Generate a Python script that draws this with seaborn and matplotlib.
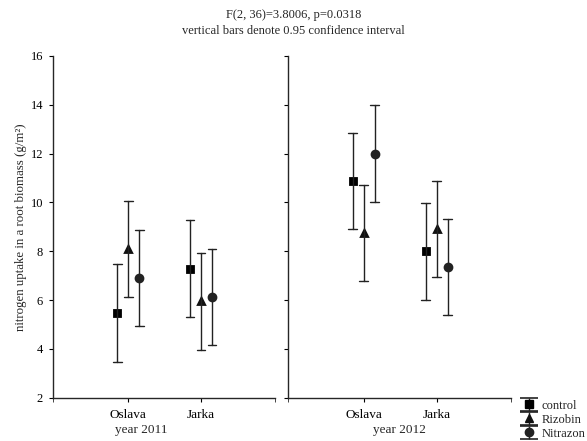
import numpy as np
import pandas as pd
import matplotlib.pyplot as plt
import seaborn as sns

# values
sites = ['Oslava', 'Jarka']
treatments = ['control', 'Rizobin', 'Nitrazon']
years = ['2011', '2012']

mean_2011 = {'control': [5.45, 7.27], 'Rizobin': [8.08, 5.95], 'Nitrazon': [6.92, 6.14]}
lower_2011 = {'control': [3.48, 5.30], 'Rizobin': [6.12, 3.97], 'Nitrazon': [4.94, 4.17]}
upper_2011 = {'control': [7.46, 9.26], 'Rizobin': [10.07, 7.93], 'Nitrazon': [8.88, 8.09]}

mean_2012 = {'control': [10.86, 8.00], 'Rizobin': [8.75, 8.90], 'Nitrazon': [12.00, 7.36]}
lower_2012 = {'control': [8.89, 6.02], 'Rizobin': [6.78, 6.93], 'Nitrazon': [10.02, 5.40]}
upper_2012 = {'control': [12.83, 9.98], 'Rizobin': [10.73, 10.86], 'Nitrazon': [13.97, 9.32]}

title_lines = ['F(2, 36)=3.8006, p=0.0318', 'vertical bars denote 0.95 confidence interval']
ylabel = 'nitrogen uptake in a root biomass (g/m\u00b2)'

# long table: lower / mean / upper rows, median = mean, 100% interval = CI bar
rows = []
for year, (m, lo, hi) in zip(years, [(mean_2011, lower_2011, upper_2011),
                                     (mean_2012, lower_2012, upper_2012)]):
    for t in treatments:
        for i, s in enumerate(sites):
            for v in (lo[t][i], m[t][i], hi[t][i]):
                rows.append({'year': year, 'site': s, 'treatment': t, 'value': v})
df = pd.DataFrame(rows)

sns.set_style('ticks')
plt.rcParams['font.family'] = ['Liberation Serif', 'DejaVu Serif']
plt.rcParams['xtick.major.size'] = 3
plt.rcParams['ytick.major.size'] = 3
plt.rcParams['xtick.minor.size'] = 3
plt.rcParams['axes.linewidth'] = 1.0

fig = plt.figure(figsize=(5.87, 4.41), dpi=100)
ax1 = fig.add_axes([0.0898, 0.0982, 0.379, 0.775])
ax2 = fig.add_axes([0.4906, 0.0982, 0.380, 0.775])

markers = ['s', '^', 'o']
colors = ['black', '#111111', '#222222']
for ax, year, xlab_pos in [(ax1, '2011', 0.397), (ax2, '2012', 0.498)]:
    sns.pointplot(data=df[df['year'] == year], x='site', y='value', hue='treatment',
                  order=sites, hue_order=treatments, estimator='median',
                  errorbar=('pi', 100), dodge=0.3, markers=markers, linestyles='none',
                  palette=colors, capsize=0.12,
                  err_kws={'linewidth': 1.0, 'color': '#222222'}, markersize=5,
                  legend=False, ax=ax)
    ax.set_xlim(-1.04, 2.02)
    ax.set_xticks([-1.04, 2.02], minor=True)
    ax.set_ylim(2, 16)
    ax.set_yticks(range(2, 17, 2))
    ax.tick_params(axis='both', colors='black', labelsize=9.5, pad=5)
    ax.set_xlabel('year ' + year, fontsize=9.5)
    ax.xaxis.set_label_coords(xlab_pos, -0.078)
    ax.set_ylabel('')
    sns.despine(ax=ax)

ax1.tick_params(axis='y', labelsize=9, pad=4)
ax1.set_ylabel(ylabel, fontsize=9.3)
ax1.yaxis.set_label_coords(-0.114, 0.5)
ax2.tick_params(axis='y', labelleft=False)

fig.text(0.5, 0.967, title_lines[0], ha='center', va='center', fontsize=9)
fig.text(0.5, 0.930, title_lines[1], ha='center', va='center', fontsize=9)

# legend handles styled like the error bars (marker with capped bar)
handles = []
for mk, c in zip(markers, colors):
    eb = ax2.errorbar([np.nan], [np.nan], yerr=[1], fmt=mk, color=c, markersize=6,
                      ecolor='#222222', elinewidth=1, capsize=6.5, capthick=1.2)
    handles.append(eb)
fig.legend(handles, treatments, loc='upper left', bbox_to_anchor=(0.887, 0.094),
           frameon=False, fontsize=9, handlelength=1.4, handletextpad=0.3,
           handleheight=0.95, labelspacing=0.1, borderpad=0, borderaxespad=0)

fig.savefig('out.png', dpi=100)
